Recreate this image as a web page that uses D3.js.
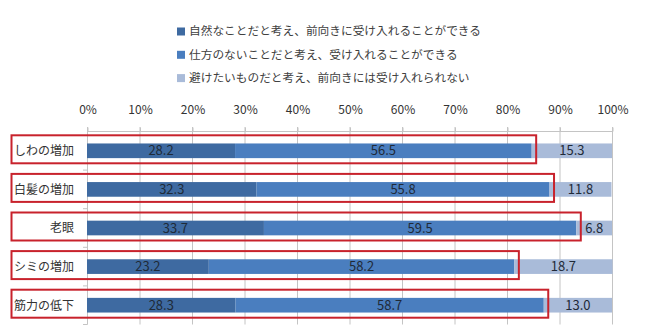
<!DOCTYPE html>
<html><head><meta charset="utf-8">
<script src="https://cdn.jsdelivr.net/npm/d3@7"></script>
<style>
html,body{margin:0;padding:0;background:#fff;}
svg{display:block;font-family:"Noto Sans CJK JP","Noto Sans",sans-serif;}
</style></head>
<body><svg id="c" width="650" height="331"></svg>
<script>
const categories = ["しわの増加","白髪の増加","老眼","シミの増加","筋力の低下"];
const seriesNames = ["自然なことだと考え、前向きに受け入れることができる","仕方のないことだと考え、受け入れることができる","避けたいものだと考え、前向きには受け入れられない"];
const series1 = [28.2,32.3,33.7,23.2,28.3];
const series2 = [56.5,55.8,59.5,58.2,58.7];
const series3 = [15.3,11.8,6.8,18.7,13.0];
const tickValues = [0,10,20,30,40,50,60,70,80,90,100];
const colors = ["#3e6aa1","#4a7ebf","#a9bbd9"];

const svg = d3.select("#c");
const x = d3.scaleLinear().domain([0,100]).range([87,612]);
const y = d3.scaleBand().domain(categories).range([131.5,324.5]).paddingInner(0.62).paddingOuter(0.31);
const step = y.step();

// gridlines
svg.append("g").selectAll("line").data(tickValues.slice(1)).join("line")
  .attr("x1",d=>x(d)+0.5).attr("x2",d=>x(d)+0.5)
  .attr("y1",127).attr("y2",324.5)
  .attr("stroke","#c4c4c4").attr("stroke-width",1);

// top axis
const xAxis = d3.axisTop(x).tickValues(tickValues).tickFormat(d=>d+"%").tickSize(4).tickPadding(14);
const gx = svg.append("g").attr("transform","translate(0.5,131.5)").call(xAxis);
gx.select(".domain").attr("stroke","#c4c4c4").attr("d","M"+(x(0))+",0H"+(x(100)));
gx.selectAll(".tick line").attr("stroke","#c4c4c4");
gx.selectAll(".tick text").attr("fill","#333").attr("font-size","12px")
  .attr("font-family","'Noto Sans CJK JP','Noto Sans',sans-serif");

// left axis line + ticks
svg.append("line").attr("x1",x(0)+0.5).attr("x2",x(0)+0.5).attr("y1",127).attr("y2",324.5).attr("stroke","#c4c4c4");
svg.append("g").selectAll("line").data(d3.range(1,categories.length+1)).join("line")
  .attr("x1",x(0)-4).attr("x2",x(0)+0.5)
  .attr("y1",k=>131.5+k*step).attr("y2",k=>131.5+k*step)
  .attr("stroke","#c4c4c4");

// stacked data
const rows = categories.map((c,i)=>({c, v:[series1[i],series2[i],series3[i]]}));
rows.forEach(r=>{
  let acc=0;
  r.segs = r.v.map((v,j)=>{const s={x0:acc,x1:acc+v,v,j}; acc+=v; return s;});
});

const gBars = svg.append("g");
rows.forEach(r=>{
  const g = gBars.append("g");
  g.selectAll("rect").data(r.segs).join("rect")
    .attr("x",d=>x(d.x0)).attr("width",d=>x(d.x1)-x(d.x0))
    .attr("y",y(r.c)).attr("height",y.bandwidth())
    .attr("fill",d=>colors[d.j]);
  g.selectAll("text").data(r.segs).join("text")
    .attr("x",d=>(x(d.x0)+x(d.x1))/2)
    .attr("y",y(r.c)+y.bandwidth()/2)
    .attr("dy","0.36em")
    .attr("text-anchor","middle")
    .attr("font-size","13px")
    .attr("fill","#1f2a38")
    .text(d=>d.v.toFixed(1));
});

// category labels
svg.append("g").selectAll("text").data(categories).join("text")
  .attr("x",74).attr("y",d=>y(d)+y.bandwidth()/2).attr("dy","0.36em")
  .attr("text-anchor","end").attr("font-size","12px").attr("fill","#333")
  .text(d=>d);

// red boxes
svg.append("g").selectAll("rect").data(rows).join("rect")
  .attr("x",11.5)
  .attr("y",d=>y(d.c)+y.bandwidth()/2-15.5)
  .attr("width",d=>x(d.v[0]+d.v[1])+4.5-11.5)
  .attr("height",28)
  .attr("fill","none").attr("stroke","#c8222c").attr("stroke-width",2);

// legend
const lg = svg.append("g");
const legY = [31,54.3,77.6];
seriesNames.forEach((n,i)=>{
  lg.append("rect").attr("x",177).attr("y",legY[i]-3.5).attr("width",8).attr("height",8).attr("fill",colors[i]);
  lg.append("text").attr("x",189).attr("y",legY[i]).attr("dy","0.36em")
    .attr("font-size","11.7px").attr("fill","#404040").text(n);
});
</script></body></html>
